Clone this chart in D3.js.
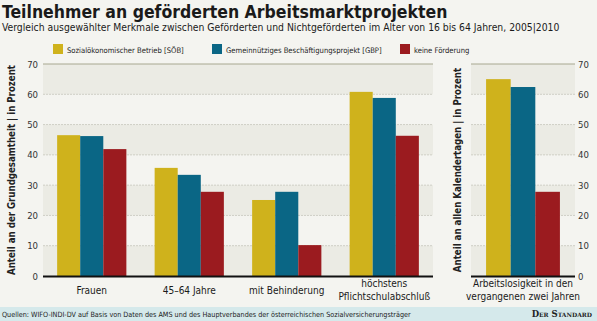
<!DOCTYPE html>
<html>
<head>
<meta charset="utf-8">
<script src="https://cdn.jsdelivr.net/npm/d3@7"></script>
<style>
  body { margin: 0; background: #f4f4f0; }
  svg { display: block; font-family: "DejaVu Sans Condensed", "Liberation Sans Narrow", sans-serif; }
</style>
</head>
<body>
<div id="chart"></div>
<script>
// data
const categories = ["Frauen", "45–64 Jahre", "mit Behinderung", "höchstens\nPflichtschulabschluß"];
const categoriesRight = ["Arbeitslosigkeit in den\nvergangenen zwei Jahren"];
const seriesNames = ["Sozialökonomischer Betrieb [SÖB]", "Gemeinnütziges Beschäftigungsprojekt [GBP]", "keine Förderung"];
const soeb = [46.5, 35.7, 25.1, 60.8];
const gbp = [46.2, 33.4, 27.8, 58.8];
const keine = [41.9, 27.8, 10.2, 46.3];
const soebRight = [65.0];
const gbpRight = [62.4];
const keineRight = [27.8];
const yTicks = [0, 10, 20, 30, 40, 50, 60, 70];
const colors = ["#cfb21c", "#0a6685", "#9b1b1f"];

const W = 597, H = 321;
const svg = d3.select("#chart").append("svg").attr("width", W).attr("height", H);

svg.append("rect").attr("width", W).attr("height", H).attr("fill", "#f4f4f0");

// title + subtitle
svg.append("text").attr("x", 2).attr("y", 18)
    .attr("font-size", 17.5).attr("font-weight", "bold").attr("fill", "#1a1a1a")
    .text("Teilnehmer an geförderten Arbeitsmarktprojekten");
svg.append("text").attr("x", 2).attr("y", 31)
    .attr("font-size", 10.3).attr("fill", "#1a1a1a")
    .text("Vergleich ausgewählter Merkmale zwischen Geförderten und Nichtgeförderten im Alter von 16 bis 64 Jahren, 2005|2010");

// legend
const legendX = [53, 212, 400];
const legend = svg.selectAll(".legend").data(seriesNames).enter().append("g")
    .attr("transform", (d, i) => `translate(${legendX[i]},44)`);
legend.append("rect").attr("width", 10).attr("height", 10).attr("fill", (d, i) => colors[i]);
legend.append("text").attr("x", 14).attr("y", 8.5).attr("font-size", 7.6).attr("fill", "#222").text(d => d);

const y = d3.scaleLinear().domain([0, 70]).range([276, 64]);

function panel(x0, x1, cats, vals) {
    const g = svg.append("g");
    const x = d3.scaleBand().domain(cats).range([x0, x1]).paddingInner(0.29).paddingOuter(0.145);
    const xs = d3.scaleBand().domain([0, 1, 2]).range([0, x.bandwidth()]);

    // alternating bands
    const bands = d3.range(0, 70, 10).filter(v => (v / 10) % 2 === 0);
    g.selectAll(".band").data(bands).enter().append("rect")
        .attr("x", x0).attr("width", x1 - x0)
        .attr("y", d => y(d + 10)).attr("height", d => y(d) - y(d + 10))
        .attr("fill", "#ebebe4");

    // grid
    g.selectAll(".grid").data(yTicks.filter(t => t > 0 && t < 70)).enter().append("line")
        .attr("x1", x0).attr("x2", x1).attr("y1", d => y(d)).attr("y2", d => y(d))
        .attr("stroke", "#cfcfc6").attr("stroke-dasharray", "2,1").attr("stroke-width", 1);
    g.append("line").attr("x1", x0).attr("x2", x1).attr("y1", y(70)).attr("y2", y(70))
        .attr("stroke", "#a8a890").attr("stroke-width", 1);

    // bars
    const rows = cats.map((c, i) => ({ c, v: vals.map(s => s[i]) }));
    const grp = g.selectAll(".grp").data(rows).enter().append("g")
        .attr("transform", d => `translate(${x(d.c)},0)`);
    grp.selectAll("rect").data(d => d.v).enter().append("rect")
        .attr("x", (d, i) => xs(i)).attr("width", xs.bandwidth())
        .attr("y", d => y(d)).attr("height", d => y(0) - y(d))
        .attr("fill", (d, i) => colors[i]);

    // baseline
    g.append("line").attr("x1", x0).attr("x2", x1).attr("y1", y(0) + 0.5).attr("y2", y(0) + 0.5)
        .attr("stroke", "#111").attr("stroke-width", 2);

    // category labels
    const lab = g.selectAll(".cat").data(cats).enter().append("text")
        .attr("text-anchor", "middle").attr("font-size", 10).attr("fill", "#1a1a1a")
        .attr("transform", d => `translate(${x(d) + x.bandwidth() / 2},0)`);
    lab.each(function(d) {
        const lines = d.split("\n");
        const start = lines.length === 1 ? 294 : 287;
        lines.forEach((l, i) => d3.select(this).append("tspan").attr("x", 0).attr("y", start + i * 13).text(l));
    });
    return g;
}

panel(43, 433, categories, [soeb, gbp, keine]);
panel(471, 575, categoriesRight, [soebRight, gbpRight, keineRight]);

// y axes
const axL = svg.append("g").attr("transform", "translate(38,0)")
    .call(d3.axisLeft(y).tickValues(yTicks).tickSize(0).tickPadding(0));
const axR = svg.append("g").attr("transform", "translate(578,0)")
    .call(d3.axisRight(y).tickValues(yTicks).tickSize(0).tickPadding(0));
[axL, axR].forEach(a => {
    a.select(".domain").remove();
    a.selectAll("text").attr("font-size", 9.5).attr("fill", "#333")
        .attr("font-family", "\"DejaVu Sans Condensed\", sans-serif");
});

// y axis titles
svg.append("text").attr("transform", `translate(15,${y(35)}) rotate(-90)`)
    .attr("text-anchor", "middle").attr("font-size", 9.6).attr("font-weight", "bold").attr("fill", "#222")
    .text("Anteil an der Grundgesamtheit | in Prozent");
svg.append("text").attr("transform", `translate(461,${y(35)}) rotate(-90)`)
    .attr("text-anchor", "middle").attr("font-size", 9.6).attr("font-weight", "bold").attr("fill", "#222")
    .text("Anteil an allen Kalendertagen | in Prozent");

// footer
svg.append("rect").attr("x", 0).attr("y", 307).attr("width", W).attr("height", H - 307).attr("fill", "#d5e9eb");
svg.append("text").attr("x", 2).attr("y", 317).attr("font-size", 7.2).attr("fill", "#222")
    .text("Quellen: WIFO-INDI-DV auf Basis von Daten des AMS und des Hauptverbandes der österreichischen Sozialversicherungsträger");
svg.append("text").attr("x", 592).attr("y", 317).attr("text-anchor", "end")
    .attr("font-family", "\"DejaVu Serif\", serif").attr("font-weight", "bold").attr("font-size", 8.5).attr("fill", "#222")
    .style("font-variant", "small-caps").text("Der Standard");
</script>
</body>
</html>
